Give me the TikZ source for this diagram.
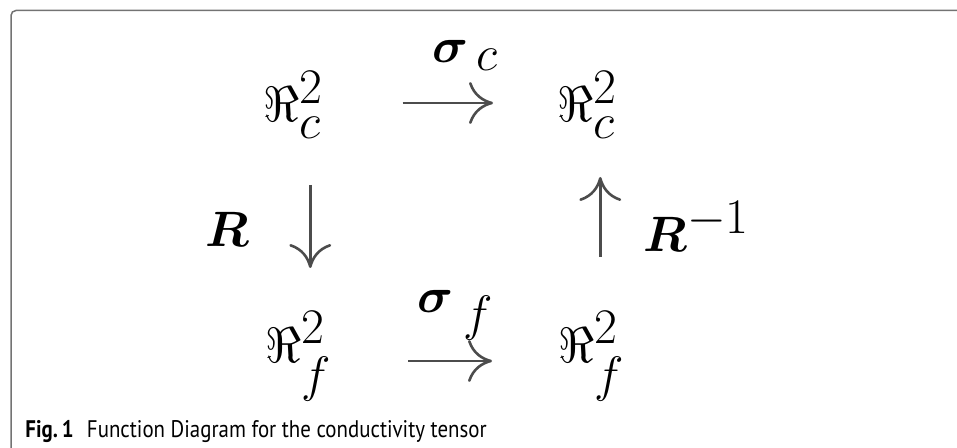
\documentclass[tikz,border=0pt]{standalone}
\usepackage{amsmath,amssymb}
\usepackage{fontspec}
\newfontfamily\capfont[FakeStretch=0.87]{PT Sans}
\usetikzlibrary{arrows.meta}

\newcommand{\bigsym}[1]{{\fontsize{48}{56}\selectfont$\boldsymbol{#1}$}}

\begin{document}
\begin{tikzpicture}[x=0.5pt, y=-0.5pt,
    mathnode/.style={inner sep=0, anchor=base west, font=\fontsize{40}{48}\selectfont},
    labnode/.style={inner sep=0, anchor=base west, font=\fontsize{38}{46}\selectfont},
    maparrow/.style={draw=black!70, line width=1.3pt, -{Computer Modern Rightarrow[length=12pt, width=21pt]}},
    framecol/.style={draw=black!55, line width=0.75pt, rounded corners=2.5pt},
    capnode/.style={inner sep=0, anchor=base west, font=\capfont\fontsize{12}{15}\selectfont},
  ]
  \useasboundingbox (0,0) rectangle (957,448);
  % --- frame (only top and left edges show) ---
  \draw[framecol] (11,448) -- (11,10.5) -- (957,10.5);

  % --- the four spaces ---
  \node[mathnode] (tl) at (263,122) {$\Re^2_c$};
  \node[mathnode] (tr) at (557,122) {$\Re^2_c$};
  \node[mathnode] (bl) at (265,362) {$\Re^2_f$};
  \node[mathnode] (br) at (558,362) {$\Re^2_f$};

  % --- map names ---
  \node[labnode] (sigc) at (432,63) {\bigsym{\sigma}\kern4pt${}_c$};
  \node[labnode] (sigf) at (417,313) {\bigsym{\sigma}\kern5pt${}_f$};
  \node[labnode] (rot) at (205,247) {{\fontsize{50}{60}\selectfont$\boldsymbol{R}$}};
  \node[labnode] (rotinv) at (643,252) {{\fontsize{50}{60}\selectfont$\boldsymbol{R}$}${}^{-1}$};

  % --- maps ---
  \draw[maparrow, shorten <=39.5pt, shorten >=32pt]
    ([yshift=9.5pt]tl.base east) -- ([yshift=9.5pt]tr.base west);
  \draw[maparrow, shorten <=38pt, shorten >=33pt]
    ([yshift=0.5pt]bl.base east) -- ([yshift=0.5pt]br.base west);
  \draw[maparrow, shorten <=31.5pt, shorten >=47pt]
    ([xshift=8.5pt]tl.base) -- ([xshift=8.5pt]tl.base |- bl.base);
  \draw[maparrow, shorten <=52.5pt, shorten >=27.5pt]
    ([xshift=6.5pt]tr.base |- br.base) -- ([xshift=6.5pt]tr.base);

  % --- caption ---
  \node[capnode] (cap) at (25,437) {\textbf{Fig.\,1}\hspace{0.55em}Function Diagram for the conductivity tensor};
\end{tikzpicture}
\end{document}
